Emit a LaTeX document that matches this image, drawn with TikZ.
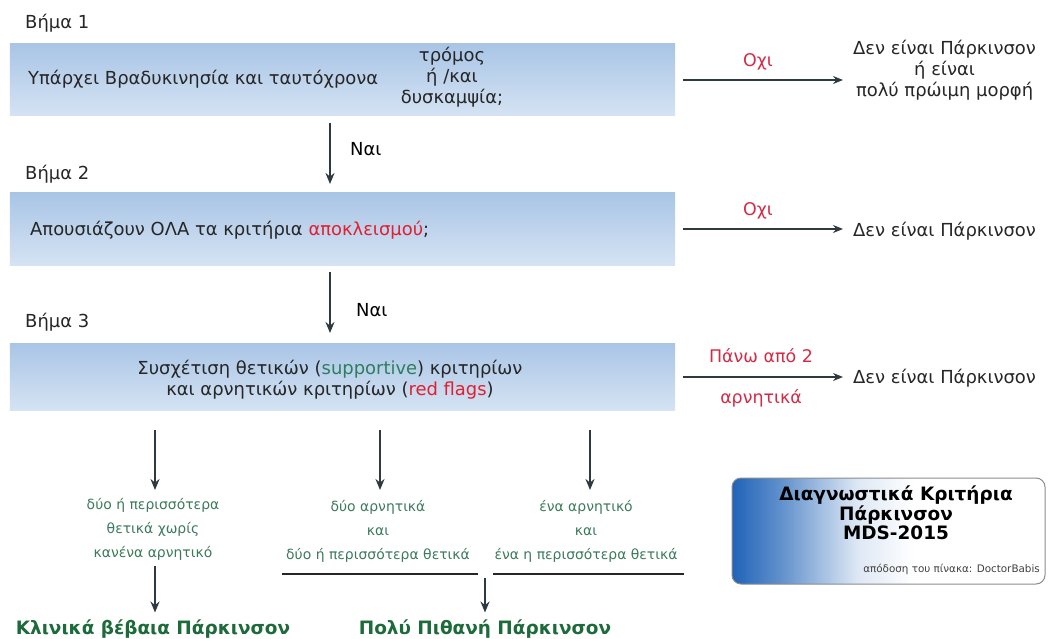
\documentclass[tikz,border=0pt]{standalone}
\usepackage{fontspec}
\setmainfont{DejaVu Sans}
\usetikzlibrary{arrows.meta}
\definecolor{arrowc}{HTML}{2E3A3F}
\definecolor{boxtop}{HTML}{A9C5E6}
\definecolor{boxbot}{HTML}{D5E3F3}
\definecolor{redtxt}{HTML}{E0202E}
\definecolor{noc}{HTML}{D42A45}
\definecolor{supgreen}{HTML}{2E7D5E}
\definecolor{smallgreen}{HTML}{3B7A5A}
\definecolor{darkgreen}{HTML}{1D6A3A}
\definecolor{logoblue}{HTML}{2063B8}
\pgfdeclarehorizontalshading{logoshade}{100bp}{color(0bp)=(logoblue); color(25bp)=(logoblue); color(33bp)=(logoblue!70!white); color(45bp)=(logoblue!15!white); color(54bp)=(white); color(100bp)=(white)}
\tikzset{
  stepbox/.style={rectangle, top color=boxtop, bottom color=boxbot, minimum width=665bp, inner sep=0pt},
  steplabel/.style={anchor=west, font=\fontsize{18}{21}\selectfont, text=black!85, inner sep=0pt},
  body/.style={font=\fontsize{18}{21}\selectfont, text=black!85, align=center, inner sep=0pt},
  rarrow/.style={draw=arrowc, line width=1.8bp, -{Stealth[length=10bp,width=8bp]}},
  darrow/.style={draw=arrowc, line width=2.2bp, -{Stealth[length=11bp,width=9bp]}},
  notxt/.style={font=\fontsize{17.5}{20}\selectfont, text=noc, inner sep=0pt},
  small/.style={font=\fontsize{14}{24}\selectfont, text=smallgreen, align=center, inner sep=0pt},
  result/.style={font=\bfseries\fontsize{18.5}{21}\selectfont, text=darkgreen, inner sep=0pt},
}
\begin{document}
\begin{tikzpicture}[x=1bp,y=-1bp]
\useasboundingbox (0,0) rectangle (1048,639);

% Step 1
\node[steplabel] (s1) at (25,23) {Βήμα 1};
\node[stepbox, minimum height=72bp] (b1) at (342.5,80) {};
\node[body, anchor=west] (b1t) at (28,79) {Υπάρχει Βραδυκινησία και ταυτόχρονα};
\node[body] (b1m) at (452,77) {τρόμος\\ή /και\\δυσκαμψία;};
\coordinate (t1) at (843,80);
\draw[rarrow] (683,80) -- (t1);
\node[notxt] (n1) at (758,62) {Οχι};
\node[body, anchor=west] (r1) at (853,70) {Δεν είναι Πάρκινσον\\ή είναι\\πολύ πρώιμη μορφή};

% arrow 1
\coordinate (d1a) at (330,123);
\coordinate (d1b) at (330,184);
\draw[darrow] (d1a) -- (d1b);
\node[anchor=west, font=\fontsize{18}{21}\selectfont, inner sep=0pt] (y1) at (350,149) {Ναι};

% Step 2
\node[steplabel] (s2) at (25,174) {Βήμα 2};
\node[stepbox, minimum height=72bp] (b2) at (342.5,229) {};
\node[body, anchor=west] (b2t) at (30,230) {Απουσιάζουν ΟΛΑ τα κριτήρια \textcolor{redtxt}{αποκλεισμού};};
\coordinate (t2) at (843,229);
\draw[rarrow] (683,229) -- (t2);
\node[notxt] (n2) at (758,211) {Οχι};
\node[body, anchor=west] (r2) at (853,231) {Δεν είναι Πάρκινσον};

% arrow 2
\coordinate (d2a) at (330,272);
\coordinate (d2b) at (330,333);
\draw[darrow] (d2a) -- (d2b);
\node[anchor=west, font=\fontsize{18}{21}\selectfont, inner sep=0pt] (y2) at (356,310) {Ναι};

% Step 3
\node[steplabel] (s3) at (25,322) {Βήμα 3};
\node[stepbox, minimum height=67bp] (b3) at (342.5,376.5) {};
\node[body] (b3t) at (330,380) {Συσχέτιση θετικών (\textcolor{supgreen}{supportive}) κριτηρίων\\και αρνητικών κριτηρίων (\textcolor{redtxt}{red flags})};
\coordinate (t3) at (843,377);
\draw[rarrow] (683,377) -- (t3);
\node[notxt] (n3a) at (761,356) {Πάνω από 2};
\node[notxt] (n3b) at (761,398) {αρνητικά};
\node[body, anchor=west] (r3) at (853,378) {Δεν είναι Πάρκινσον};

% three branches
\coordinate (c1a) at (155,430);
\coordinate (c1b) at (155,490);
\coordinate (c2a) at (380,430);
\coordinate (c2b) at (380,490);
\coordinate (c3a) at (590,430);
\coordinate (c3b) at (590,490);
\draw[darrow] (c1a) -- (c1b);
\draw[darrow] (c2a) -- (c2b);
\draw[darrow] (c3a) -- (c3b);

\node[small] (g1) at (153,529) {δύο ή περισσότερα\\θετικά χωρίς\\κανένα αρνητικό};
\node[small] (g2) at (378,531) {δύο αρνητικά\\και\\δύο ή περισσότερα θετικά};
\node[small] (g3) at (586,531) {ένα αρνητικό\\και\\ένα η περισσότερα θετικά};

\coordinate (l1a) at (282,574);
\coordinate (l1b) at (478,574);
\coordinate (l2a) at (493,574);
\coordinate (l2b) at (684,574);
\draw[draw=black!85, line width=1.6bp] (l1a) -- (l1b);
\draw[draw=black!85, line width=1.6bp] (l2a) -- (l2b);

\node[result] (f1) at (153,629) {Κλινικά βέβαια Πάρκινσον};
\node[result] (f2) at (485,629) {Πολύ Πιθανή Πάρκινσον};
\coordinate (e1a) at (155,566);
\coordinate (e2a) at (485,578);
\draw[darrow, shorten >=7bp] (e1a) -- (f1.north -| e1a);
\draw[darrow, shorten >=7bp] (e2a) -- (f2.north -| e2a);

% logo
\node[rectangle, rounded corners=9bp, draw=black!45, line width=1bp,
      shading=logoshade,
      minimum width=313bp, minimum height=106bp] (logo) at (888.5,531) {};
\node[font=\bfseries\fontsize{18.5}{19.5}\selectfont, align=center, inner sep=0pt] (logot) at (896,513) {Διαγνωστικά Κριτήρια\\Πάρκινσον\\MDS-2015};
\node[font=\fontsize{10.4}{12}\selectfont, anchor=east, inner sep=0pt, text=black!75] (credit) at (1040,569) {απόδοση του πίνακα: DoctorBabis};
\end{tikzpicture}
\end{document}
